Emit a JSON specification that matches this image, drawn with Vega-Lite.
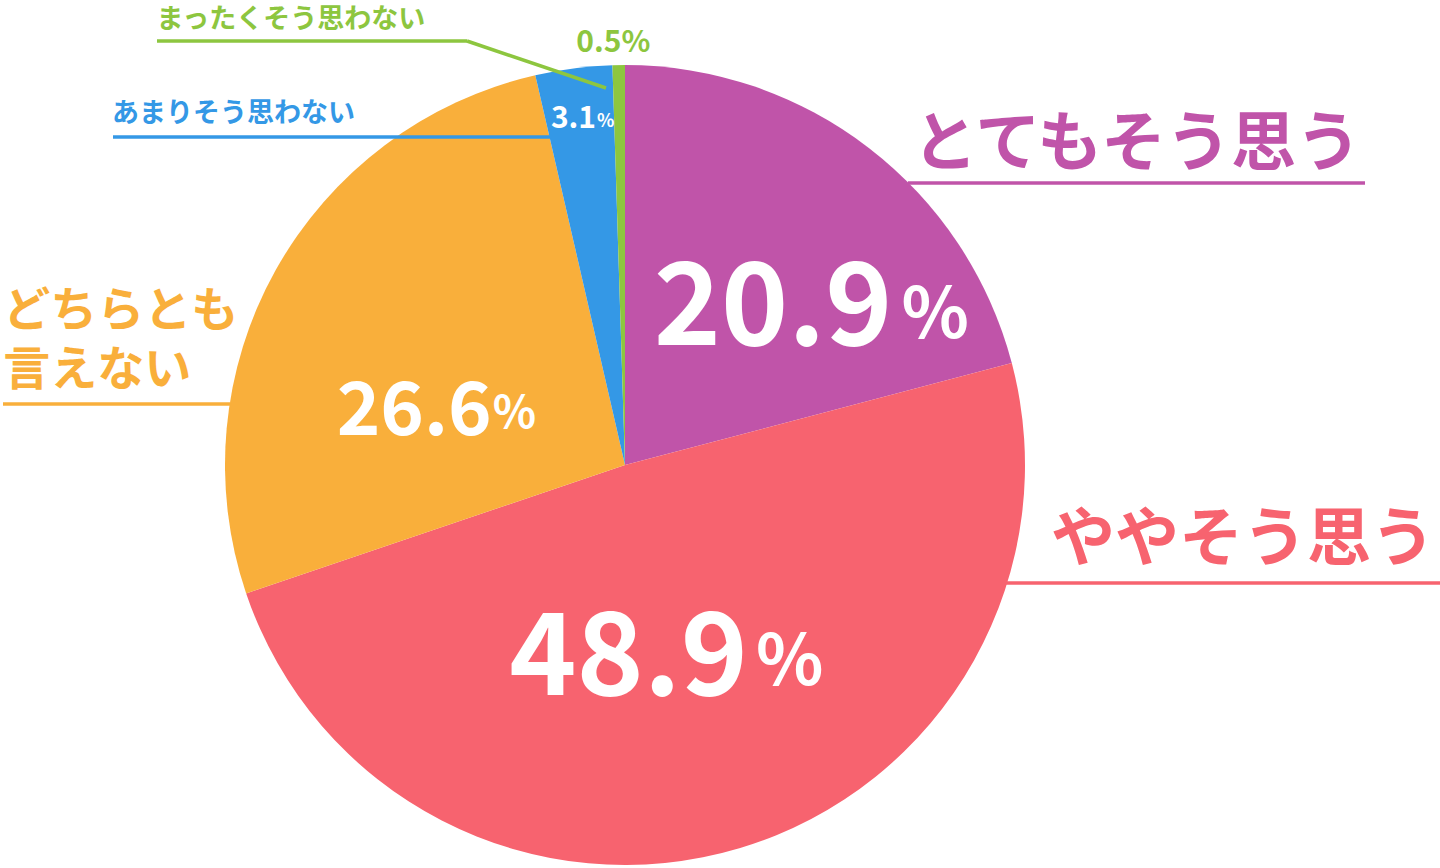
{
  "$schema": "https://vega.github.io/schema/vega-lite/v6.json",
  "width": 1250,
  "height": 806,
  "autosize": {"type": "none"},
  "padding": {"left": 0, "top": 62, "right": 190, "bottom": 0},
  "background": "white",
  "config": {
    "view": {"stroke": null},
    "text": {"font": "Noto Sans CJK JP", "fontWeight": "bold"}
  },
  "datasets": {
    "slices": [
      {"cat": "とてもそう思う", "pct": 20.9, "rank": 1},
      {"cat": "ややそう思う", "pct": 48.9, "rank": 2},
      {"cat": "どちらとも言えない", "pct": 26.6, "rank": 3},
      {"cat": "あまりそう思わない", "pct": 3.1, "rank": 4},
      {"cat": "まったくそう思わない", "pct": 0.5, "rank": 5}
    ],
    "leaders": [
      {"cat": "とてもそう思う", "x1": 0.7075, "x2": 1.85, "y1": 0.705, "y2": 0.705},
      {"cat": "ややそう思う", "x1": 0.95, "x2": 2.04, "y1": -0.295, "y2": -0.295},
      {"cat": "どちらとも言えない", "x1": -1.555, "x2": -0.9875, "y1": 0.1525, "y2": 0.1525},
      {"cat": "あまりそう思わない", "x1": -1.28, "x2": -0.1825, "y1": 0.82, "y2": 0.82},
      {"cat": "まったくそう思わない", "x1": -1.17, "x2": -0.395, "y1": 1.06, "y2": 1.06},
      {"cat": "まったくそう思わない", "x1": -0.395, "x2": -0.0475, "y1": 1.06, "y2": 0.9425}
    ]
  },
  "layer": [
    {
      "data": {"name": "slices"},
      "mark": {"type": "arc", "outerRadius": 400},
      "encoding": {
        "theta": {"field": "pct", "type": "quantitative", "stack": true},
        "order": {"field": "rank", "type": "quantitative"},
        "color": {
          "field": "cat", "type": "nominal", "legend": null,
          "scale": {
            "domain": ["とてもそう思う", "ややそう思う", "どちらとも言えない", "あまりそう思わない", "まったくそう思わない"],
            "range": ["#C054A9", "#F7636F", "#F9AF3B", "#3498E6", "#8DC63F"]
          }
        }
      }
    },
    {
      "data": {"name": "leaders"},
      "mark": {"type": "rule", "strokeWidth": 3.5},
      "encoding": {
        "x": {"field": "x1", "type": "quantitative", "axis": null, "scale": {"domain": [-1.5625, 1.5625], "nice": false, "zero": false}},
        "x2": {"field": "x2"},
        "y": {"field": "y1", "type": "quantitative", "axis": null, "scale": {"domain": [-1.0075, 1.0075], "nice": false, "zero": false}},
        "y2": {"field": "y2"},
        "color": {"field": "cat", "type": "nominal", "legend": null}
      }
    },
    {
      "data": {"name": "slices"},
      "encoding": {
        "theta": {"field": "pct", "type": "quantitative", "stack": true},
        "order": {"field": "rank", "type": "quantitative"},
        "detail": {"field": "cat", "type": "nominal"}
      },
      "layer": [
        {
          "mark": {"type": "text", "radius": 250, "align": "right", "baseline": "alphabetic", "dx": 115, "dy": 78, "fontSize": 114, "color": "white"},
          "encoding": {"text": {"condition": {"test": "datum.cat === 'とてもそう思う'", "field": "pct", "type": "quantitative", "format": ".1f"}, "value": ""}}
        },
        {
          "mark": {"type": "text", "radius": 250, "align": "left", "baseline": "alphabetic", "dx": 124, "dy": 71, "fontSize": 70, "color": "white"},
          "encoding": {"text": {"condition": {"test": "datum.cat === 'とてもそう思う'", "value": "%"}, "value": ""}}
        },
        {
          "mark": {"type": "text", "radius": 250, "align": "right", "baseline": "alphabetic", "dx": 51, "dy": -9, "fontSize": 114, "color": "white"},
          "encoding": {"text": {"condition": {"test": "datum.cat === 'ややそう思う'", "field": "pct", "type": "quantitative", "format": ".1f"}, "value": ""}}
        },
        {
          "mark": {"type": "text", "radius": 250, "align": "left", "baseline": "alphabetic", "dx": 59, "dy": -19, "fontSize": 70, "color": "white"},
          "encoding": {"text": {"condition": {"test": "datum.cat === 'ややそう思う'", "value": "%"}, "value": ""}}
        },
        {
          "mark": {"type": "text", "radius": 250, "align": "right", "baseline": "alphabetic", "dx": 85, "dy": 92, "fontSize": 74, "color": "white"},
          "encoding": {"text": {"condition": {"test": "datum.cat === 'どちらとも言えない'", "field": "pct", "type": "quantitative", "format": ".1f"}, "value": ""}}
        },
        {
          "mark": {"type": "text", "radius": 250, "align": "left", "baseline": "alphabetic", "dx": 86, "dy": 85, "fontSize": 45, "color": "white"},
          "encoding": {"text": {"condition": {"test": "datum.cat === 'どちらとも言えない'", "value": "%"}, "value": ""}}
        },
        {
          "mark": {"type": "text", "radius": 350, "align": "right", "baseline": "alphabetic", "dx": 16, "dy": 10, "fontSize": 30, "color": "white"},
          "encoding": {"text": {"condition": {"test": "datum.cat === 'あまりそう思わない'", "field": "pct", "type": "quantitative", "format": ".1f"}, "value": ""}}
        },
        {
          "mark": {"type": "text", "radius": 350, "align": "left", "baseline": "alphabetic", "dx": 17, "dy": 9, "fontSize": 18, "color": "white"},
          "encoding": {"text": {"condition": {"test": "datum.cat === 'あまりそう思わない'", "value": "%"}, "value": ""}}
        },
        {
          "mark": {"type": "text", "radius": 420, "align": "right", "baseline": "alphabetic", "dx": 3, "dy": 7, "fontSize": 30},
          "encoding": {
            "color": {"field": "cat", "type": "nominal", "legend": null},
            "text": {"condition": {"test": "datum.cat === 'まったくそう思わない'", "field": "pct", "type": "quantitative", "format": ".1f"}, "value": ""}
          }
        },
        {
          "mark": {"type": "text", "radius": 420, "align": "left", "baseline": "alphabetic", "dx": 3, "dy": 7, "fontSize": 30},
          "encoding": {
            "color": {"field": "cat", "type": "nominal", "legend": null},
            "text": {"condition": {"test": "datum.cat === 'まったくそう思わない'", "value": "%"}, "value": ""}
          }
        },
        {
          "mark": {"type": "text", "radius": 420, "align": "left", "baseline": "alphabetic", "dx": 31, "dy": 33, "fontSize": 65},
          "encoding": {
            "color": {"field": "cat", "type": "nominal", "legend": null},
            "text": {"condition": {"test": "datum.cat === 'とてもそう思う'", "field": "cat", "type": "nominal"}, "value": ""}
          }
        },
        {
          "mark": {"type": "text", "radius": 420, "align": "left", "baseline": "alphabetic", "dx": 305, "dy": -307, "fontSize": 64},
          "encoding": {
            "color": {"field": "cat", "type": "nominal", "legend": null},
            "text": {"condition": {"test": "datum.cat === 'ややそう思う'", "field": "cat", "type": "nominal"}, "value": ""}
          }
        },
        {
          "mark": {"type": "text", "radius": 420, "align": "left", "baseline": "alphabetic", "dx": -255, "dy": 66, "fontSize": 47, "lineHeight": 59},
          "encoding": {
            "color": {"field": "cat", "type": "nominal", "legend": null},
            "text": {"condition": {"test": "datum.cat === 'どちらとも言えない'", "value": ["どちらとも", "言えない"]}, "value": ""}
          }
        },
        {
          "mark": {"type": "text", "radius": 420, "align": "left", "baseline": "alphabetic", "dx": -459, "dy": 74, "fontSize": 27},
          "encoding": {
            "color": {"field": "cat", "type": "nominal", "legend": null},
            "text": {"condition": {"test": "datum.cat === 'あまりそう思わない'", "field": "cat", "type": "nominal"}, "value": ""}
          }
        },
        {
          "mark": {"type": "text", "radius": 420, "align": "left", "baseline": "alphabetic", "dx": -462, "dy": -17, "fontSize": 27},
          "encoding": {
            "color": {"field": "cat", "type": "nominal", "legend": null},
            "text": {"condition": {"test": "datum.cat === 'まったくそう思わない'", "field": "cat", "type": "nominal"}, "value": ""}
          }
        }
      ]
    }
  ]
}
